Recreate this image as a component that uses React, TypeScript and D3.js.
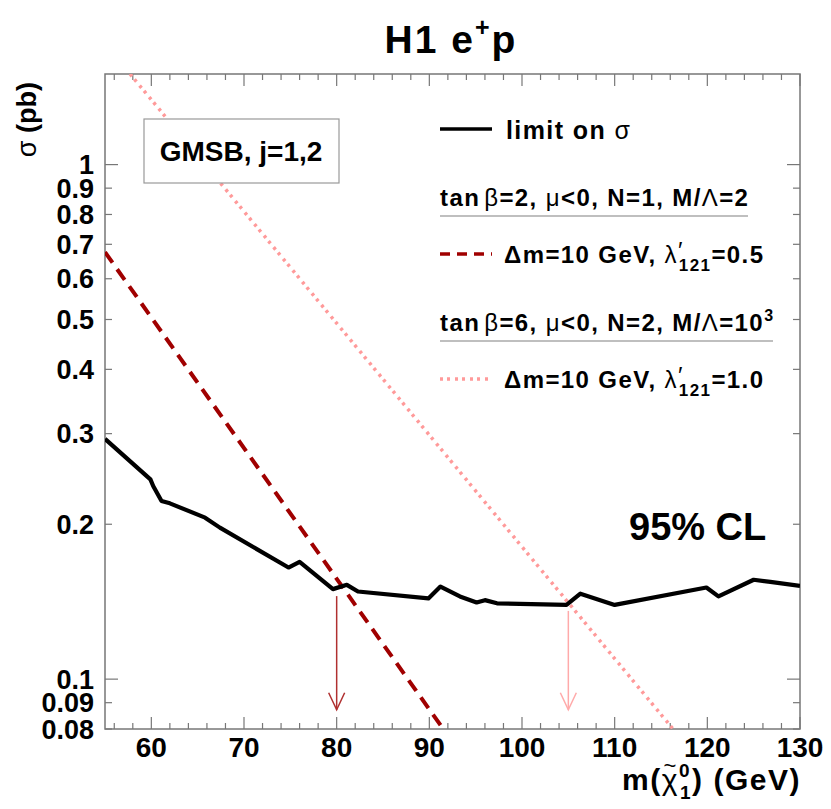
import React from "react";
import * as d3 from "d3";

// ---- data ----
const limitMass = [55, 59.9, 60.2, 61.1, 62.0, 65.8, 67.4, 74.8, 76.0, 79.6, 81.1, 82.3, 89.9, 91.2, 93.3, 95.1, 96.0, 97.3, 104.8, 106.3, 110.0, 119.9, 121.2, 125.0, 126.8, 130];
const limitSigma = [0.293, 0.2445, 0.2373, 0.222, 0.2196, 0.206, 0.197, 0.1648, 0.169, 0.1496, 0.1525, 0.148, 0.1435, 0.1513, 0.1448, 0.1409, 0.1424, 0.1404, 0.1394, 0.1466, 0.1394, 0.1507, 0.1448, 0.156, 0.1545, 0.1518];

const theory1Mass = [55, 91.5];
const theory1Sigma = [0.676, 0.08];
const theory2Mass = [57.7, 116.3];
const theory2Sigma = [1.5, 0.08];

const arrowMass = [80, 105];
const arrowTop = [0.145, 0.1357];
const arrowBottom = [0.0872, 0.0872];

const xTicks = [60, 70, 80, 90, 100, 110, 120, 130];
const yTicks = [0.08, 0.09, 0.1, 0.2, 0.3, 0.4, 0.5, 0.6, 0.7, 0.8, 0.9, 1];
const yTickLabels = ["0.08", "0.09", "0.1", "0.2", "0.3", "0.4", "0.5", "0.6", "0.7", "0.8", "0.9", "1"];

const W = 831, H = 809;
const L = 105, R = 800, T = 74, B = 729;

const FONT = "'Liberation Sans', Arial, Helvetica, sans-serif";
const RED = "#a00000";
const PINK = "#ff9a9a";
const AXIS = "#777";

export default function App() {
  const x = d3.scaleLinear().domain([55, 130]).range([L, R]);
  const y = d3.scaleLog().domain([0.08, 1.5]).range([B, T]);

  const line = d3.line<[number, number]>().x(d => x(d[0])).y(d => y(d[1]));
  const limitPts = limitMass.map((m, i) => [m, limitSigma[i]] as [number, number]);
  const t1 = theory1Mass.map((m, i) => [m, theory1Sigma[i]] as [number, number]);
  const t2 = theory2Mass.map((m, i) => [m, theory2Sigma[i]] as [number, number]);

  const minorX = d3.range(56, 130, 2).filter(v => v % 10 !== 0);
  const LS = 1.4;

  return (
    <svg width={W} height={H} style={{ display: "block", position: "absolute", left: 0, top: 0 }} fontFamily={FONT}>
      <defs>
        <clipPath id="plot">
          <rect x={L} y={T} width={R - L} height={B - T} />
        </clipPath>
      </defs>
      <rect x={0} y={0} width={W} height={H} fill="white" />

      {/* title */}
      <text x={451} y={53} textAnchor="middle" fontSize={39} fontWeight="bold" letterSpacing={2}>
        H1 e<tspan fontSize={25} dy={-17}>+</tspan><tspan dy={17}>p</tspan>
      </text>

      {/* frame */}
      <rect x={L} y={T} width={R - L} height={B - T} fill="none" stroke={AXIS} strokeWidth={1.5} />

      {/* x ticks */}
      {xTicks.map(v => (
        <g key={"xt" + v}>
          <line x1={x(v)} x2={x(v)} y1={B} y2={B - 12} stroke={AXIS} strokeWidth={1.2} />
          <line x1={x(v)} x2={x(v)} y1={T} y2={T + 12} stroke={AXIS} strokeWidth={1.2} />
          <text x={x(v)} y={757} textAnchor="middle" fontSize={28} fontWeight="bold">{v}</text>
        </g>
      ))}
      {minorX.map(v => (
        <g key={"xm" + v}>
          <line x1={x(v)} x2={x(v)} y1={B} y2={B - 6} stroke={AXIS} strokeWidth={1.2} />
          <line x1={x(v)} x2={x(v)} y1={T} y2={T + 6} stroke={AXIS} strokeWidth={1.2} />
        </g>
      ))}

      {/* y ticks */}
      {yTicks.map((v, i) => {
        const major = v === 1 || v === 0.1;
        const len = major ? 13 : 7;
        return (
          <g key={"yt" + v}>
            <line x1={L} x2={L + len} y1={y(v)} y2={y(v)} stroke={AXIS} strokeWidth={1.2} />
            <line x1={R} x2={R - len} y1={y(v)} y2={y(v)} stroke={AXIS} strokeWidth={1.2} />
            <text x={94} y={y(v)} dy="0.36em" textAnchor="end" fontSize={27} fontWeight="bold">{yTickLabels[i]}</text>
          </g>
        );
      })}

      {/* axis titles */}
      <text transform="translate(36,82) rotate(-90)" textAnchor="end" fontSize={27} fontWeight="bold">
        <tspan fontWeight="normal">σ</tspan> (pb)
      </text>
      <text x={622} y={790} fontSize={30} fontWeight="bold" letterSpacing={1.5}>
        m(<tspan fontWeight="normal">χ</tspan><tspan fontSize={19} dy={-13}>0</tspan><tspan fontSize={19} dx={-11} dy={22}>1</tspan><tspan dy={-9}>) (GeV)</tspan>
      </text>
      <text x={670} y={773} textAnchor="middle" fontSize={22} fontWeight="normal">~</text>

      {/* curves */}
      <g clipPath="url(#plot)">
        <path d={line(t2) || ""} fill="none" stroke={PINK} strokeWidth={3.5} strokeDasharray="3,4,3,5" />
        <path d={line(t1) || ""} fill="none" stroke={RED} strokeWidth={4} strokeDasharray="13,8" />
        <path d={line(limitPts) || ""} fill="none" stroke="black" strokeWidth={4.2} strokeLinejoin="round" />
      </g>

      {/* arrows */}
      {arrowMass.map((m, i) => {
        const c = i === 0 ? "#b03030" : "#ffaaaa";
        const ax = x(m), y0 = y(arrowTop[i]), y1 = y(arrowBottom[i]);
        return (
          <g key={"ar" + i} stroke={c} strokeWidth={1.5} fill="none">
            <line x1={ax} x2={ax} y1={y0} y2={y1} />
            <polyline points={`${ax - 8},${y1 - 17} ${ax},${y1} ${ax + 8},${y1 - 17}`} />
          </g>
        );
      })}

      {/* GMSB box */}
      <rect x={144} y={119} width={195} height={64} fill="white" stroke="#999" strokeWidth={1.2} />
      <text x={241} y={161} textAnchor="middle" fontSize={28} fontWeight="bold">GMSB, j=1,2</text>

      {/* legend */}
      <line x1={440} x2={492} y1={129} y2={129} stroke="black" strokeWidth={3.5} />
      <text x={506} y={139} fontSize={25} fontWeight="bold" letterSpacing={LS}>limit on <tspan fontWeight="normal">σ</tspan></text>

      <text x={440} y={206} fontSize={24} fontWeight="bold" letterSpacing={LS}>
        tan<tspan fontWeight="normal" dx={4}>β</tspan>=2, <tspan fontWeight="normal">μ</tspan>&lt;0, N=1, M/<tspan fontWeight="normal">Λ</tspan>=2
      </text>
      <line x1={440} x2={748} y1={216} y2={216} stroke="#aaa" strokeWidth={1.5} />

      <line x1={440} x2={492} y1={254} y2={254} stroke={RED} strokeWidth={3.5} strokeDasharray="10,7" />
      <text x={504} y={263} fontSize={24} fontWeight="bold" letterSpacing={LS}>
        Δm=10 GeV, <tspan fontWeight="normal">λ</tspan><tspan fontWeight="normal" dy={-4}>′</tspan><tspan fontSize={17} dx={-5} dy={12}>121</tspan><tspan dy={-8}>=0.5</tspan>
      </text>

      <text x={440} y={331} fontSize={24} fontWeight="bold" letterSpacing={LS}>
        tan<tspan fontWeight="normal" dx={4}>β</tspan>=6, <tspan fontWeight="normal">μ</tspan>&lt;0, N=2, M/<tspan fontWeight="normal">Λ</tspan>=10<tspan fontSize={16} dy={-10}>3</tspan>
      </text>
      <line x1={440} x2={773} y1={341} y2={341} stroke="#aaa" strokeWidth={1.5} />

      <line x1={440} x2={492} y1={379} y2={379} stroke={PINK} strokeWidth={3.5} strokeDasharray="3,4,3,5" />
      <text x={504} y={388} fontSize={24} fontWeight="bold" letterSpacing={LS}>
        Δm=10 GeV, <tspan fontWeight="normal">λ</tspan><tspan fontWeight="normal" dy={-4}>′</tspan><tspan fontSize={17} dx={-5} dy={12}>121</tspan><tspan dy={-8}>=1.0</tspan>
      </text>

      {/* 95% CL */}
      <text x={629} y={540} fontSize={38} fontWeight="bold">95% CL</text>
    </svg>
  );
}
